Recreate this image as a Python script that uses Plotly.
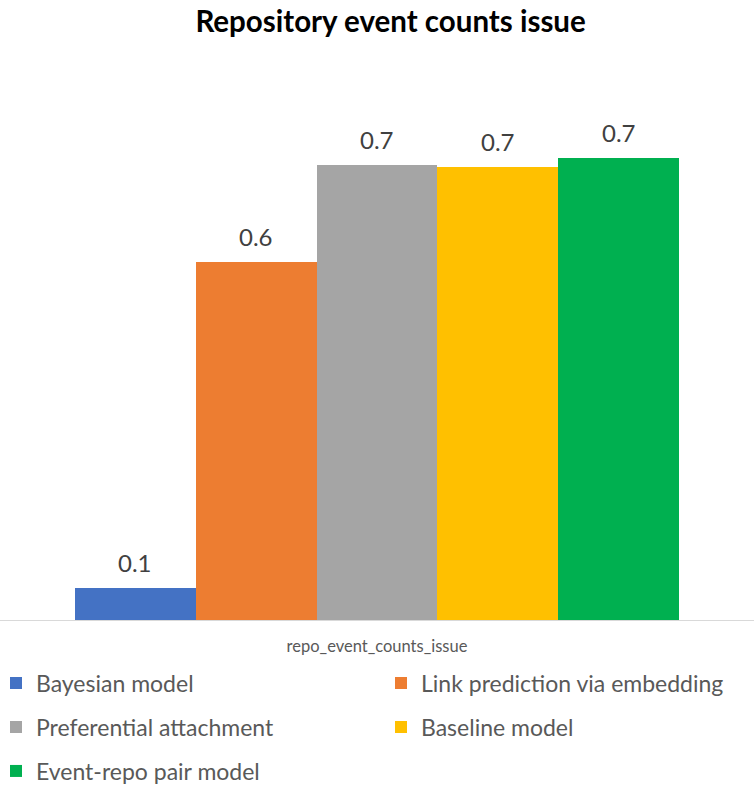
import plotly.graph_objects as go

title = "Repository event counts issue"
category = "repo_event_counts_issue"
series_names = ["Bayesian model", "Link prediction via embedding", "Preferential attachment",
                "Baseline model", "Event-repo pair model"]
series_values = [0.0506, 0.566, 0.719, 0.717, 0.730]
series_colors = ["#4472C4", "#ED7D31", "#A5A5A5", "#FFC000", "#00B050"]

FONT = "Lato, 'Open Sans', sans-serif"
W, H = 754, 789
top, bottom = 114, 169
plot_h = H - top - bottom

fig = go.Figure()
for i, (name, val, col) in enumerate(zip(series_names, series_values, series_colors)):
    fig.add_trace(go.Bar(
        x=[i], y=[val], name=name, width=1,
        marker=dict(color=col, line=dict(width=0)),
        legend="legend" if i == 0 else f"legend{i + 1}", hoverinfo="name+y",
    ))
    fig.add_annotation(
        x=i, y=val, xref="x", yref="y", text=f"{val:.1f}", showarrow=False,
        yanchor="bottom", yshift=9,
        font=dict(family=FONT, size=24, color="#404040"),
    )

n = len(series_names)
pad = (W / (604 / n) - n) / 2
row_pix = [683, 727, 771]
col_x = [0, 385 / W]
leg_common = dict(orientation="h", xanchor="left", yanchor="middle",
                  font=dict(family=FONT, size=23, color="#595959"),
                  bgcolor="rgba(0,0,0,0)", borderwidth=0)
legends = {}
for i in range(n):
    key = "legend" if i == 0 else f"legend{i + 1}"
    legends[key] = dict(**leg_common, x=col_x[i % 2] - 4 / W,
                        y=(H - bottom - row_pix[i // 2]) / plot_h)

fig.update_layout(
    width=W, height=H,
    margin=dict(l=0, r=0, t=top, b=bottom, pad=0, autoexpand=False),
    paper_bgcolor="white", plot_bgcolor="white",
    title=dict(text=f"<b>{title}</b>", x=0.518, xanchor="center", y=1 - 22 / H, yanchor="middle",
               font=dict(family=FONT, size=29.5, color="#000000")),
    bargap=0,
    xaxis=dict(range=[-0.5 - pad, n - 0.5 + pad], tickvals=[(n - 1) / 2], ticktext=[category],
               showline=True, linecolor="#D9D9D9", linewidth=1, showgrid=False, zeroline=False,
               ticks="", ticklabelstandoff=11,
               tickfont=dict(family=FONT, size=16.5, color="#595959"), fixedrange=True),
    yaxis=dict(range=[0, 0.8], visible=False, showgrid=False, zeroline=False, fixedrange=True),
    showlegend=True,
    **legends,
)

fig.write_html("out.html")
